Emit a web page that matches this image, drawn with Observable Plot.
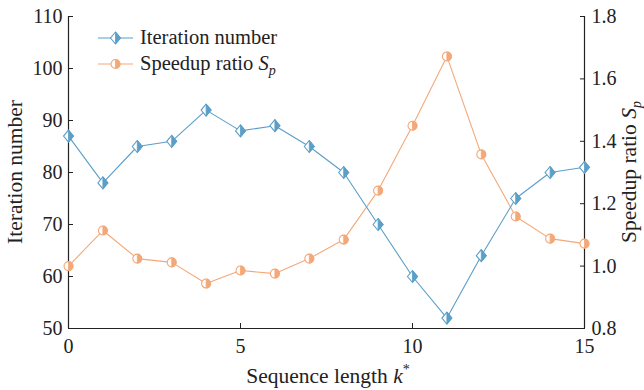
<!DOCTYPE html>
<html><head><meta charset="utf-8">
<script src="https://cdn.jsdelivr.net/npm/d3@7"></script>
<script src="https://cdn.jsdelivr.net/npm/@observablehq/plot@0.6"></script>
<style>body{margin:0;background:#fff}#c{width:644px;height:390px}
svg, svg text { font-family: "Liberation Serif", "Times New Roman", serif !important; }</style>
</head><body><div id="c"></div>
<script>
const seqLength = [0,1,2,3,4,5,6,7,8,9,10,11,12,13,14,15];
const iterations = [87,78,85,86,92,88,89,85,80,70,60,52,64,75,80,81];
const speedup = [1.00,1.114,1.024,1.012,0.944,0.986,0.976,1.024,1.085,1.242,1.45,1.672,1.358,1.159,1.088,1.072];
const leftTicks = [50,60,70,80,90,100,110];
const rightTicks = [0.8,1.0,1.2,1.4,1.6,1.8];
const xTicks = [0,5,10,15];
const seriesNames = ["Iteration number","Speedup ratio"];

const blue = "#5b9ec8", orange = "#f4a878";
const font = "Liberation Serif";
const fs = 20, fsTitle = 21.5, fsLegend = 20.5;
const toLeft = s => 50 + (s - 0.8) * 60;
const fromLeft = v => 0.8 + (v - 50) / 60;

const diamondFull = {draw(ctx, size){const r=Math.sqrt(size/Math.PI);const h=r*1.2,w=r;ctx.moveTo(0,-h);ctx.lineTo(w,0);ctx.lineTo(0,h);ctx.lineTo(-w,0);ctx.closePath();}};
const diamondHalf = {draw(ctx, size){const r=Math.sqrt(size/Math.PI);const h=r*1.2,w=r;ctx.moveTo(0,-h);ctx.lineTo(w,0);ctx.lineTo(0,h);ctx.closePath();}};
const circleFull = {draw(ctx, size){const r=Math.sqrt(size/Math.PI);ctx.moveTo(r,0);ctx.arc(0,0,r,0,2*Math.PI);ctx.closePath();}};
const circleHalf = {draw(ctx, size){const r=Math.sqrt(size/Math.PI);ctx.moveTo(0,-r);ctx.arc(0,0,r,-Math.PI/2,Math.PI/2);ctx.closePath();}};

const iterData = seqLength.map((k,i)=>({k, v: iterations[i]}));
const spData = seqLength.map((k,i)=>({k, v: toLeft(speedup[i])}));

const plot = Plot.plot({
  width: 644, height: 390,
  marginLeft: 68, marginRight: 60, marginTop: 16, marginBottom: 62,
  style: {fontFamily: font, fontSize: fs + "px", color: "#222", background: "#fff"},
  x: {domain: [0, 15]},
  y: {domain: [50, 110]},
  marks: [
    Plot.axisX({ticks: xTicks, tickSize: -5, tickPadding: 15, label: null, fontSize: fs}),
    Plot.axisY({anchor: "left", ticks: leftTicks, tickSize: -5, tickPadding: 11, label: null, fontSize: fs}),
    Plot.axisY({anchor: "right", ticks: rightTicks.map(toLeft), tickFormat: d => fromLeft(d).toFixed(1), tickSize: -5, tickPadding: 12, label: null, fontSize: fs}),
    Plot.ruleX([0, 15], {stroke: "#222", strokeWidth: 1.2}),
    Plot.ruleY([50], {stroke: "#222", strokeWidth: 1.2}),
    Plot.line(spData, {x: "k", y: "v", stroke: orange, strokeWidth: 1.1}),
    Plot.line(iterData, {x: "k", y: "v", stroke: blue, strokeWidth: 1.1}),
    Plot.dot(spData, {x: "k", y: "v", symbol: circleFull, r: 4.5, fill: "white", stroke: orange, strokeWidth: 1.1}),
    Plot.dot(spData, {x: "k", y: "v", symbol: circleHalf, r: 4.5, fill: orange, stroke: orange, strokeWidth: 0.8}),
    Plot.dot(iterData, {x: "k", y: "v", symbol: diamondFull, r: 5, fill: "white", stroke: blue, strokeWidth: 1.1}),
    Plot.dot(iterData, {x: "k", y: "v", symbol: diamondHalf, r: 5, fill: blue, stroke: blue, strokeWidth: 0.8})
  ]
});
document.getElementById("c").appendChild(plot);

const svg = d3.select(plot);
svg.selectAll("text").attr("fill", "#222");
function addText(size){ return svg.append("text").attr("font-family", font).attr("font-size", size).attr("fill", "#222"); }
addText(fsTitle).attr("text-anchor", "middle").attr("transform", "translate(22,172) rotate(-90)").text("Iteration number");
const tr = addText(fsTitle).attr("text-anchor", "middle").attr("transform", "translate(636,172) rotate(-90)");
tr.append("tspan").text("Speedup ratio ");
tr.append("tspan").attr("font-style", "italic").text("S");
tr.append("tspan").attr("font-style", "italic").attr("font-size", 14).attr("dy", 5).text("p");
const tx = addText(fsTitle).attr("text-anchor", "middle").attr("x", 328).attr("y", 383);
tx.append("tspan").text("Sequence length ");
tx.append("tspan").attr("font-style", "italic").text("k");
tx.append("tspan").attr("font-size", 14).attr("dy", -9).text("*");

// legend
function symPath(sym, size){const p = d3.path(); sym.draw(p, size); return p.toString();}
const legend = [
  {y: 38, color: blue, full: diamondFull, half: diamondHalf, r: 5, name: seriesNames[0], sub: false},
  {y: 64, color: orange, full: circleFull, half: circleHalf, r: 4.5, name: seriesNames[1], sub: true}
];
legend.forEach(d => {
  const g = svg.append("g");
  g.append("line").attr("x1", 98).attr("x2", 133).attr("y1", d.y).attr("y2", d.y).attr("stroke", d.color).attr("stroke-width", 1.1);
  g.append("path").attr("transform", `translate(115.5,${d.y})`).attr("d", symPath(d.full, Math.PI*d.r*d.r)).attr("fill", "white").attr("stroke", d.color).attr("stroke-width", 1.1);
  g.append("path").attr("transform", `translate(115.5,${d.y})`).attr("d", symPath(d.half, Math.PI*d.r*d.r)).attr("fill", d.color).attr("stroke", d.color).attr("stroke-width", 0.8);
  const t = addText(fsLegend).attr("text-anchor", "start").attr("x", 140).attr("y", d.y + 6);
  t.append("tspan").text(d.name);
  if (d.sub) {
    t.append("tspan").attr("font-style", "italic").text(" S");
    t.append("tspan").attr("font-style", "italic").attr("font-size", 14).attr("dy", 5).text("p");
  }
});
</script></body></html>
